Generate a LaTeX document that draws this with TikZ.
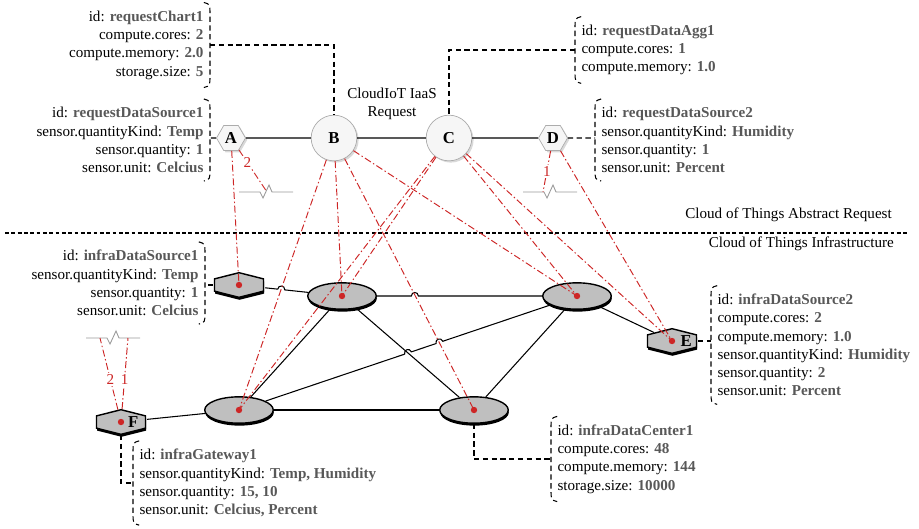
\documentclass[tikz,border=0pt]{standalone}
\usepackage{fontspec}
\setmainfont{Liberation Serif}
\usetikzlibrary{shapes.geometric,shadows,calc,positioning}
\definecolor{valgray}{RGB}{88,88,88}
\definecolor{mapred}{RGB}{205,38,38}
\newcommand{\val}[1]{\textcolor{valgray}{\textbf{#1}}}
% dashed parentheses along the attribute lists
\newcommand{\infobraceR}[1]{%
  \draw[infoline] ([xshift=-3.5pt,yshift=2pt]#1.north east)
    .. controls ([yshift=1pt]#1.north east) .. ([yshift=-5pt]#1.north east)
    -- ([yshift=5pt]#1.south east)
    .. controls ([yshift=-1pt]#1.south east) .. ([xshift=-3.5pt,yshift=-2pt]#1.south east);}
\newcommand{\infobraceL}[1]{%
  \draw[infoline] ([xshift=3.5pt,yshift=2pt]#1.north west)
    .. controls ([yshift=1pt]#1.north west) .. ([yshift=-5pt]#1.north west)
    -- ([yshift=5pt]#1.south west)
    .. controls ([yshift=-1pt]#1.south west) .. ([xshift=3.5pt,yshift=-2pt]#1.south west);}
\tikzset{
  brkmark/.pic={\draw[breakline] (-27,0) -- (-6,0) -- (-3,6) -- (3,-7) -- (6,0) -- (27,0);}
}

\begin{document}
\begin{tikzpicture}[
    x=0.02cm, y=-0.02cm,
    font=\fontsize{8.6}{10.4}\selectfont,
    reqnode/.style={draw=gray!65, fill=gray!7, inner sep=0.5pt,
      font=\fontsize{9.5}{11}\selectfont\bfseries,
      drop shadow={opacity=0.3, shadow xshift=1pt, shadow yshift=-1pt}},
    reqcircle/.style={reqnode, circle, minimum size=26pt},
    reqhex/.style={reqnode, regular polygon, regular polygon sides=6, minimum size=16.5pt},
    infranode/.style={draw=black, thick, fill=gray!50,
      drop shadow={fill=black, opacity=1, shadow xshift=0.3pt, shadow yshift=-1.4pt}},
    infrahex/.style={infranode, regular polygon, regular polygon sides=6,
      shape border rotate=30, minimum size=14pt, inner sep=0pt, xscale=2.3},
    infraswitch/.style={infranode, ellipse, minimum width=39pt, minimum height=15pt, inner sep=0pt},
    infralabel/.style={font=\fontsize{9.5}{11}\selectfont\bfseries, inner sep=0pt},
    link/.style={black, line width=0.6pt},
    infoline/.style={black, line width=0.6pt, dash pattern=on 3pt off 2pt},
    mapline/.style={mapred, line width=0.55pt, dash pattern=on 4pt off 1.5pt on 0.8pt off 1.5pt},
    breakline/.style={gray!80, line width=0.5pt},
    sepline/.style={black, line width=1.1pt, dash pattern=on 2.2pt off 1.4pt},
    info/.style={align=left, inner xsep=3.5pt, inner ysep=2.5pt},
    rinfo/.style={align=right, inner xsep=3.5pt, inner ysep=2.5pt},
    maplabel/.style={fill=white, inner sep=0.8pt}
  ]
  \useasboundingbox (0,0) rectangle (919,528);

  % abstract request
  \node[reqhex] (a) at (231,138) {A};
  \node[reqcircle] (b) at (334,138) {B};
  \node[reqcircle] (c) at (449,138) {C};
  \node[reqhex] (d) at (553,138) {D};
  \node[align=center] (reqtitle) at (392,104) {CloudIoT IaaS\\Request};
  \draw[link] (a) -- (b) -- (c) -- (d);

  \node[rinfo, anchor=east] (chartinfo) at (210,45)
    {id: \val{requestChart1}\\compute.cores: \val{2}\\compute.memory: \val{2.0}\\storage.size: \val{5}};
  \node[rinfo, anchor=east] (src1info) at (210,140)
    {id: \val{requestDataSource1}\\sensor.quantityKind: \val{Temp}\\sensor.quantity: \val{1}\\sensor.unit: \val{Celcius}};
  \node[info, anchor=west] (agginfo) at (575,50)
    {id: \val{requestDataAgg1}\\compute.cores: \val{1}\\compute.memory: \val{1.0}};
  \node[info, anchor=west] (src2info) at (595,140)
    {id: \val{requestDataSource2}\\sensor.quantityKind: \val{Humidity}\\sensor.quantity: \val{1}\\sensor.unit: \val{Percent}};
  \infobraceR{chartinfo}
  \infobraceR{src1info}
  \infobraceL{agginfo}
  \infobraceL{src2info}
  \draw[infoline] (chartinfo.east) -| (b);
  \draw[infoline] (a) -- (a -| src1info.east);
  \draw[infoline] (agginfo.west) -| (c);
  \draw[infoline] (d) -- (d -| src2info.west);

  % layer separator
  \draw[sepline] (5,233) -- (907,233);
  \node[anchor=east] (abstitle) at (898,215) {Cloud of Things Abstract Request};
  \node[anchor=east] (inftitle) at (900,244) {Cloud of Things Infrastructure};

  % infrastructure
  \node[infrahex] (ds1) at (239,285) {};
  \node[infraswitch] (sw1) at (342,296) {};
  \node[infraswitch] (sw2) at (577,296) {};
  \node[infraswitch] (sw3) at (239,410) {};
  \node[infraswitch] (dc1) at (474,410) {};
  \node[infrahex] (ds2) at (672,341) {};
  \node[infrahex] (gw) at (121,422) {};
  \node[infralabel] (elabel) at ([xshift=8pt]ds2.center) {E};
  \node[infralabel] (flabel) at ([xshift=7pt]gw.center) {F};

  \node[rinfo, anchor=east] (ds1info) at (205,283)
    {id: \val{infraDataSource1}\\sensor.quantityKind: \val{Temp}\\sensor.quantity: \val{1}\\sensor.unit: \val{Celcius}};
  \node[info, anchor=west] (ds2info) at (711,345)
    {id: \val{infraDataSource2}\\compute.cores: \val{2}\\compute.memory: \val{1.0}\\sensor.quantityKind: \val{Humidity}\\sensor.quantity: \val{2}\\sensor.unit: \val{Percent}};
  \node[info, anchor=west] (gwinfo) at (133,483)
    {id: \val{infraGateway1}\\sensor.quantityKind: \val{Temp, Humidity}\\sensor.quantity: \val{15, 10}\\sensor.unit: \val{Celcius, Percent}};
  \node[info, anchor=west] (dcinfo) at (551,459)
    {id: \val{infraDataCenter1}\\compute.cores: \val{48}\\compute.memory: \val{144}\\storage.size: \val{10000}};
  \infobraceR{ds1info}
  \infobraceL{ds2info}
  \infobraceL{gwinfo}
  \infobraceL{dcinfo}
  \draw[infoline] (ds1) -- (ds1 -| ds1info.east);
  \draw[infoline] (ds2) -- (ds2 -| ds2info.west);
  \draw[infoline] (gw) |- (gwinfo.west);
  \draw[infoline] (dc1) |- (dcinfo.west);

  % links, hopping over crossings
  \coordinate (hopa) at ($(ds1)!0.41!(sw1)$);
  \coordinate (hopb) at ($(sw1)!0.31!(sw2)$);
  \coordinate (hopc) at ($(sw3)!0.5!(sw2)$);
  \coordinate (hopd) at ($(sw3)!0.593!(sw2)$);
  \draw[link] (ds1) -- ($(hopa)!-2pt!(sw1)$) to[bend left=90, looseness=1.7] ($(hopa)!2pt!(sw1)$) -- (sw1);
  \draw[link] (sw1) -- ($(hopb)!-2pt!(sw2)$) to[bend left=90, looseness=1.7] ($(hopb)!2pt!(sw2)$) -- (sw2);
  \draw[link] (sw3) -- ($(hopc)!-2pt!(sw2)$) to[bend left=90, looseness=1.7] ($(hopc)!2pt!(sw2)$)
    -- ($(hopd)!-2pt!(sw2)$) to[bend left=90, looseness=1.7] ($(hopd)!2pt!(sw2)$) -- (sw2);
  \draw[link] (sw1) -- (sw3);
  \draw[link] (sw1) -- (dc1);
  \draw[link] (sw2) -- (dc1);
  \draw[link] (sw2) -- (ds2);
  \draw[link] (sw3) -- (dc1);
  \draw[link] (gw) -- (sw3);

  % mappings from request to infrastructure
  \coordinate (cuta) at (267,192);
  \coordinate (cutd) at (543,192);
  \coordinate (cutf2) at (100,338);
  \coordinate (cutf1) at (128,338);
  \pic at (266,192) {brkmark};
  \pic at (550,192) {brkmark};
  \pic at (113,338) {brkmark};

  \draw[mapline] (a) -- (ds1.center);
  \draw[mapline] (a) -- node[maplabel, pos=0.3] (ma) {2} (cuta);
  \draw[mapline] (b) -- (sw3.center);
  \draw[mapline] (b) -- (sw1.center);
  \draw[mapline] (b) -- (dc1.center);
  \draw[mapline] (b) -- (sw2.center);
  \draw[mapline] (c) -- (sw1.center);
  \draw[mapline] (c) -- (sw3.center);
  \draw[mapline] (c) -- (sw2.center);
  \draw[mapline] (c) -- (ds2.center);
  \draw[mapline] (d) -- node[maplabel, pos=0.5] (md) {1} (cutd);
  \draw[mapline] (d) -- (ds2.center);
  \draw[mapline] (gw) -- node[maplabel, pos=0.42] (mf2) {2} (cutf2);
  \draw[mapline] (gw) -- node[maplabel, pos=0.42] (mf1) {1} (cutf1);
  \foreach \n in {ds1,sw1,sw2,sw3,dc1,ds2,gw}
    \fill[mapred] (\n.center) circle (3.2);
\end{tikzpicture}
\end{document}
